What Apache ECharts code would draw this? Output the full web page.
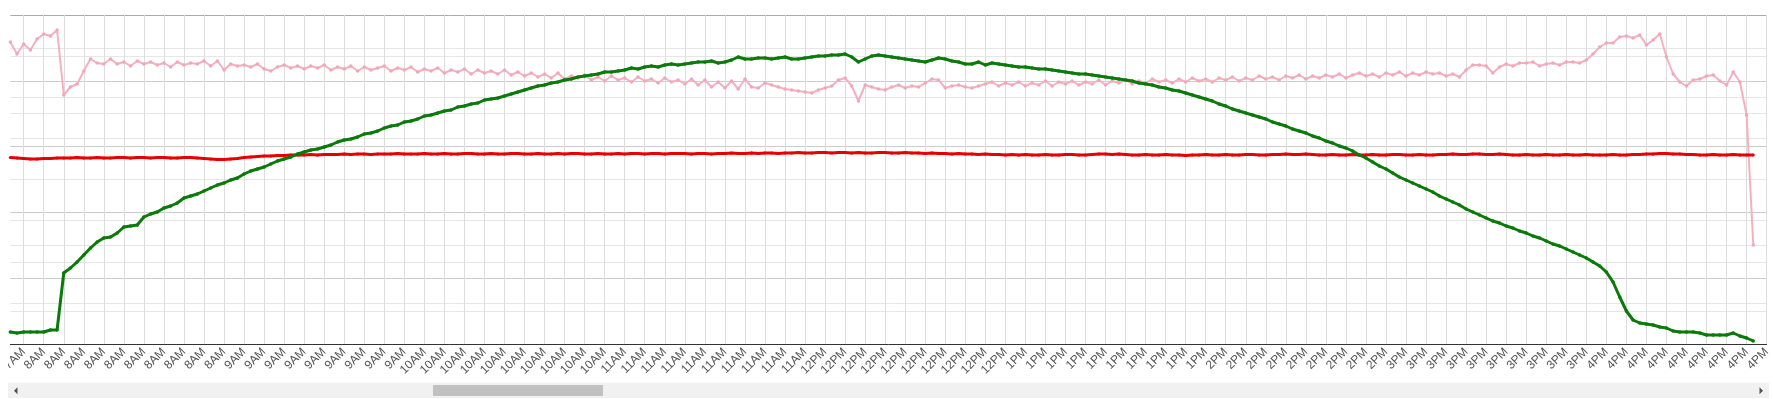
<!DOCTYPE html>
<html>
<head>
<meta charset="utf-8">
<script src="https://cdn.jsdelivr.net/npm/echarts@6/dist/echarts.min.js"></script>
<style>
html,body{margin:0;padding:0;background:#fff;}
#chart{width:1773px;height:399px;}
</style>
</head>
<body>
<div id="chart"></div>
<script>
// Tick labels (one every 3 samples, first at sample index 2)
const tickLabels = [
 '7AM',
 '8AM','8AM','8AM','8AM','8AM','8AM','8AM','8AM','8AM','8AM',
 '9AM','9AM','9AM','9AM','9AM','9AM','9AM','9AM','9AM',
 '10AM','10AM','10AM','10AM','10AM','10AM','10AM','10AM','10AM','10AM',
 '11AM','11AM','11AM','11AM','11AM','11AM','11AM','11AM','11AM','11AM',
 '12PM','12PM','12PM','12PM','12PM','12PM','12PM','12PM','12PM','12PM',
 '1PM','1PM','1PM','1PM','1PM','1PM','1PM','1PM','1PM','1PM',
 '2PM','2PM','2PM','2PM','2PM','2PM','2PM','2PM','2PM',
 '3PM','3PM','3PM','3PM','3PM','3PM','3PM','3PM','3PM','3PM',
 '4PM','4PM','4PM','4PM','4PM','4PM','4PM','4PM','4PM'
];
const categoryCount = 264;
const categories = Array.from({length: categoryCount}, (_, i) => String(i));

// Series values
const greenValues = [
 12,11,12,12,12,12,14,14,
 71,76,82,89,96,102,106,107,111,117,118,119,127,130,132,136,138,141,146,148,150,153,156,159,161,164,166,170,173,175,177,180,183,185,187,190,
 192,194,195,197,199,202,204,205,207,210,211,213,216,218,219,222,223,225,228,229,
 231,233,234,237,238,240,241,244,245,246,248,250,252,254,256,258,259,261,262,264,
 265,267,268,269,270,272,272,273,274,276,275,277,278,277,279,280,
 279,280,281,282,282,283,281,282,284,287,
 285,285,286,286,285,286,287,285,285,286,
 287,288,288,289,289,290,287,282,285,288,
 289,288,287,286,285,284,283,282,284,286,
 285,283,282,280,280,282,279,281,280,279,
 278,
 277,277,276,275,275,274,273,272,271,270,
 270,269,268,267,266,265,264,263,261,260,
 259,257,256,254,253,251,249,247,245,243,
 240,238,235,233,231,229,227,225,222,220,
 218,215,213,211,208,206,203,201,198,196,
 193,189,186,182,178,175,171,167,164,161,158,155,152,148,145,142,139,
 135,132,129,126,123,121,118,116,113,111,108,106,103,100,98,95,92,89,86,82,78,72,62,
 47,33,24,21,20,19,17,16,13,12,12,12,11,9,9,9,9,11,8,6,3
];
const redValues = [
 186.5,186,185.5,185,185,185.5,185.5,186,186,186,186.5,
 186,186,186.5,186,186,186.5,186.5,186,186.5,186.5,186,186.5,186.5,186,186,186.5,186.5,186,185.5,185,
 184.5,184.5,185,185.5,186.5,187,187.5,188,188,188.5,
 188.5,189,189,189,189.5,189,189.5,189.5,189.5,190,189.5,190,190,189.5,190,190,190,190.5,190,190,
 190,190.5,190,190,190.5,190,190,190.5,190.5,190,190,190.5,190,190,190.5,190.5,190,190,190.5,190,
 190,190.5,190,190.5,190.5,190,190,190.5,190,190,190.5,190,190.5,190.5,190,190.5,190.5,190,190.5,190.5,
 190.5,190,190.5,190.5,190,190.5,190.5,191,190.5,190.5,191,190.5,191,191,190.5,191,
 191,191.5,191,191,191.5,191.5,191,191.5,191.5,191,191.5,191,191,191.5,191.5,191,191,191.5,191,191,190.5,191,190.5,190.5,190,190.5,190,190,189.5,190,189.5,189.5,189,189.5,
 189,189.5,189,189,189.5,189,189,189.5,189.5,189,
 189,189.5,190,190,189.5,190,189.5,189,189,189.5,
 189,189,189.5,189,189,188.5,189,189,189.5,189,
 189,189.5,189,189,189.5,189.5,189,189,189.5,189.5,
 190,189.5,189.5,190,189.5,189,189,189.5,189,189,
 189.5,189,189,189.5,189,189,189.5,189.5,189,189,
 189.5,189,189,189.5,189.5,190,189.5,189.5,190,190,
 189.5,189.5,190,189.5,189,189,189.5,189,189,189.5,
 189,189,189.5,189,189,189.5,189,189,189,189.5,
 189,189,189.5,189.5,190,190,190.5,190.5,190,190,
 189.5,189.5,189,189,189.5,189,189,189.5,189,189,189
];
const pinkValues = [
 302,290,300,294,305,310,308,314,249,257,260,273,
 285,281,280,285,280,282,278,283,280,282,
 279,281,277,282,279,281,280,283,278,283,
 274,280,278,279,277,280,275,273,277,279,
 276,278,
 275,278,276,279,274,277,275,278,273,277,
 274,276,278,273,276,274,277,272,275,273,
 276,271,274,272,275,270,274,271,273,270,
 274,269,272,268,271,267,270,266,271,265,
 268,266,269,264,267,263,268,264,266,262,
 267,263,265,261,266,262,264,260,265,259,
 264,257,262,256,263,255,265,257,256,261,
 259,257,255,254,253,252,251,254,256,258,
 264,266,258,243,259,257,255,254,257,259,
 256,258,257,261,265,264,256,258,259,257,
 256,258,260,262,
 258,261,259,262,258,261,259,263,258,262,
 260,263,259,262,260,264,259,263,261,264,
 260,263,261,265,262,264,261,265,262,266,
 263,265,262,266,264,267,263,266,264,268,
 265,267,264,268,266,269,265,268,266,269,
 267,270,266,269,271,268,270,267,271,269,
 272,268,271,269,272,270,271,268,270,267,
 274,279,279,278,271,277,280,278,281,281,
 282,278,280,281,279,282,282,281,284,290,
 297,301,301,307,308,306,309,299,304,310,
 287,270,262,258,264,265,268,269,263,259,
 272,262,229,99
];

const isTick = (i) => i >= 2 && (i - 2) % 3 === 0;

const chart = echarts.init(document.getElementById('chart'), null, {renderer: 'canvas'});
const clear = 'rgba(0,0,0,0)';
const option = {
  animation: false,
  backgroundColor: '#ffffff',
  grid: {left: 8, right: -9, top: 15, bottom: 55, containLabel: false},
  xAxis: {
    type: 'category',
    data: categories,
    boundaryGap: false,
    axisLine: {lineStyle: {color: '#333333', width: 1}},
    axisTick: {show: false},
    axisLabel: {
      interval: (i) => isTick(i),
      rotate: 45,
      margin: 6,
      color: '#555555',
      fontFamily: 'Liberation Sans, Arial, sans-serif',
      fontSize: 12,
      showMinLabel: true,
      showMaxLabel: true,
      hideOverlap: false,
      formatter: (v, i) => tickLabels[(Number(v) - 2) / 3] || ''
    },
    splitLine: {show: true, interval: (i) => isTick(i), lineStyle: {color: '#dddddd', width: 1}}
  },
  yAxis: [
    {
      type: 'value', min: 0, max: 329, interval: 65.8,
      axisLabel: {show: false}, axisLine: {show: false}, axisTick: {show: false},
      splitLine: {show: true, lineStyle: {color: [clear, '#cccccc', '#cccccc', '#cccccc', '#cccccc', '#aaaaaa'], width: 1}},
      minorTick: {show: false, splitNumber: 2},
      minorSplitLine: {show: true, lineStyle: {color: '#e6e6e6', width: 1}}
    },
    {
      type: 'value', min: 0, max: 329, interval: 41.125, position: 'right',
      axisLabel: {show: false}, axisLine: {show: false}, axisTick: {show: false},
      splitLine: {show: true, lineStyle: {color: [clear, '#e6e6e6', '#e6e6e6', '#e6e6e6', '#e6e6e6', '#e6e6e6', '#e6e6e6', '#e6e6e6', clear], width: 1}}
    }
  ],
  series: [
    {
      name: 'pink', type: 'line', yAxisIndex: 0, data: pinkValues,
      symbol: 'circle', symbolSize: 3.5, showSymbol: true,
      lineStyle: {color: '#f5b0bf', width: 2}, itemStyle: {color: '#f2a7b8'},
      z: 2
    },
    {
      name: 'red', type: 'line', yAxisIndex: 0, data: redValues,
      symbol: 'circle', symbolSize: 3, showSymbol: true,
      lineStyle: {color: '#e60000', width: 3}, itemStyle: {color: '#e60000'},
      z: 3
    },
    {
      name: 'green', type: 'line', yAxisIndex: 0, data: greenValues,
      symbol: 'circle', symbolSize: 3.5, showSymbol: true,
      lineStyle: {color: '#0a7a0a', width: 3}, itemStyle: {color: '#0a7a0a'},
      z: 4
    }
  ],
  graphic: [
    {type: 'rect', z: 100, shape: {x: 0, y: 345, width: 8, height: 37}, style: {fill: '#ffffff'}},
    {type: 'rect', z: 100, shape: {x: 1769, y: 0, width: 4, height: 382}, style: {fill: '#ffffff'}},
    {type: 'rect', z: 100, shape: {x: 8, y: 383, width: 1761, height: 15}, style: {fill: '#f1f1f1'}},
    {type: 'rect', z: 101, shape: {x: 433, y: 385, width: 170, height: 11}, style: {fill: '#c1c1c1'}},
    {type: 'polygon', z: 101, shape: {points: [[14, 390.7], [17.5, 387.2], [17.5, 394.2]]}, style: {fill: '#505050'}},
    {type: 'polygon', z: 101, shape: {points: [[1763, 390.7], [1759.5, 387.2], [1759.5, 394.2]]}, style: {fill: '#505050'}}
  ]
};
chart.setOption(option);
</script>
</body>
</html>
